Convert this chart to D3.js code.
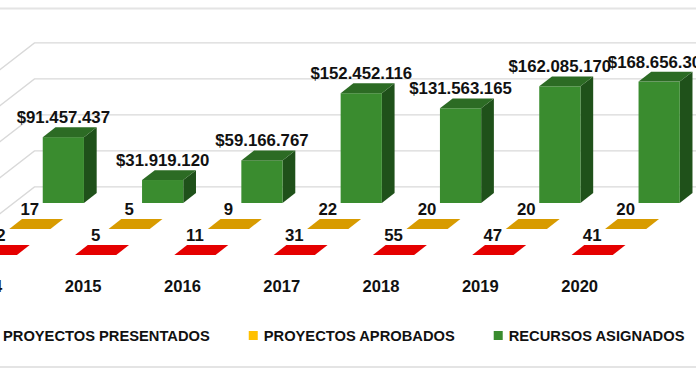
<!DOCTYPE html>
<html lang="es">
<head>
<meta charset="UTF-8">
<title>Proyectos y recursos</title>
<script src="https://d3js.org/d3.v7.min.js"></script>
<style>
  body { margin: 0; background: #fff; }
  svg { display: block; font-family: "Liberation Sans", Arial, sans-serif; }
  .lbl { font-weight: bold; fill: #111; }
</style>
</head>
<body>
<svg id="chart"></svg>
<script>
  const years = ["2014", "2015", "2016", "2017", "2018", "2019", "2020"];
  const presentados = [32, 5, 11, 31, 55, 47, 41];
  const aprobados = [17, 5, 9, 22, 20, 20, 20];
  const recursos = [91457437, 31919120, 59166767, 152452116, 131563165, 162085170, 168656300];
  const seriesNames = ["PROYECTOS PRESENTADOS", "PROYECTOS APROBADOS", "RECURSOS ASIGNADOS"];
  const gridTicks = [0, 50000000, 100000000, 150000000, 200000000];

  const W = 696, H = 385;
  const colors = [
    { front: "#ff0000", top: "#e50000", side: "#b00000", legend: "#ff0000" },
    { front: "#ffc000", top: "#d89b00", side: "#b08000", legend: "#ffc000" },
    { front: "#3a8c2f", top: "#2c6b24", side: "#1f511a", legend: "#3a8c2f" }
  ];

  const fmtLocale = d3.formatLocale({ decimal: ",", thousands: ".", grouping: [3], currency: ["$", ""] });
  const money = fmtLocale.format("$,.0f");

  const svg = d3.select("#chart").attr("width", W).attr("height", H);
  svg.append("rect").attr("width", W).attr("height", H).attr("fill", "#fff");

  // front row base line and oblique depth shift per series row
  const frontBase = 255;
  const rowDx = 33.5, rowDy = -26;
  const barDepth = 0.38;   // bar depth as a fraction of a row step
  const wallDepth = 2.62;  // back wall position in row steps

  const x = d3.scaleBand().domain(years)
    .range([-53.3, 641.8])
    .paddingInner(0.585)
    .paddingOuter(0.2925);
  const bw = x.bandwidth();

  const h = d3.scaleLinear().domain([0, 200000000]).range([0, 144]);

  // outer frame lines (cropped chart)
  svg.append("line").attr("x1", 0).attr("x2", W).attr("y1", 8.5).attr("y2", 8.5)
    .attr("stroke", "#e4e4e4").attr("stroke-width", 2);
  svg.append("line").attr("x1", 0).attr("x2", W).attr("y1", 367).attr("y2", 367)
    .attr("stroke", "#e4e4e4").attr("stroke-width", 2);

  // walls gridlines
  const wallX = x.range()[0] + wallDepth * rowDx;
  const wallBase = frontBase + wallDepth * rowDy;
  const grid = svg.append("g").attr("stroke", "#d9d9d9").attr("stroke-width", 1.4).attr("fill", "none");
  gridTicks.forEach(t => {
    const y = wallBase - h(t);
    grid.append("polyline")
      .attr("points", [[wallX - 3.4 * rowDx, y - 3.4 * rowDy], [wallX, y], [W + 10, y]].map(p => p.join(",")).join(" "));
  });

  const series = [presentados, aprobados, recursos];

  // draw back rows first
  const bars = svg.append("g");
  [2, 1, 0].forEach(s => {
    const g = bars.append("g");
    const c = colors[s];
    const ddx = barDepth * rowDx, ddy = barDepth * rowDy;
    series[s].forEach((v, i) => {
      const X = x(years[i]) + s * rowDx;
      const base = frontBase + s * rowDy;
      const top = base - h(v);
      g.append("polygon")
        .attr("points", [[X + bw, base], [X + bw, top], [X + bw + ddx, top + ddy], [X + bw + ddx, base + ddy]].join(" "))
        .attr("fill", c.side);
      g.append("rect")
        .attr("x", X).attr("y", top).attr("width", bw).attr("height", base - top)
        .attr("fill", c.front);
      g.append("polygon")
        .attr("points", [[X, top], [X + bw, top], [X + bw + ddx, top + ddy], [X + ddx, top + ddy]].join(" "))
        .attr("fill", c.top);
    });
  });

  // value labels
  const labels = svg.append("g").attr("class", "lbl").attr("font-size", 16.8).attr("text-anchor", "middle");
  [2, 1, 0].forEach(s => {
    series[s].forEach((v, i) => {
      const X = x(years[i]) + s * rowDx;
      const base = frontBase + s * rowDy;
      labels.append("text")
        .attr("x", X + bw / 2)
        .attr("y", base - h(v) - 14)
        .text(s === 2 ? money(v) : v);
    });
  });

  // category labels
  svg.append("g").attr("class", "lbl").attr("font-size", 16.6).attr("text-anchor", "middle")
    .selectAll("text").data(years).join("text")
    .attr("x", d => x(d) + bw / 2 - 12.5)
    .attr("y", 292)
    .text(d => d);

  // legend
  const legend = svg.append("g").attr("class", "lbl").attr("font-size", 14.7);
  let lx = -12;
  seriesNames.forEach((name, s) => {
    legend.append("rect").attr("x", lx).attr("y", 331).attr("width", 9).attr("height", 9)
      .attr("fill", colors[s].legend);
    const t = legend.append("text").attr("x", lx + 15).attr("y", 341).text(name);
    lx += 15 + t.node().getComputedTextLength() + 39;
  });
</script>
</body>
</html>
